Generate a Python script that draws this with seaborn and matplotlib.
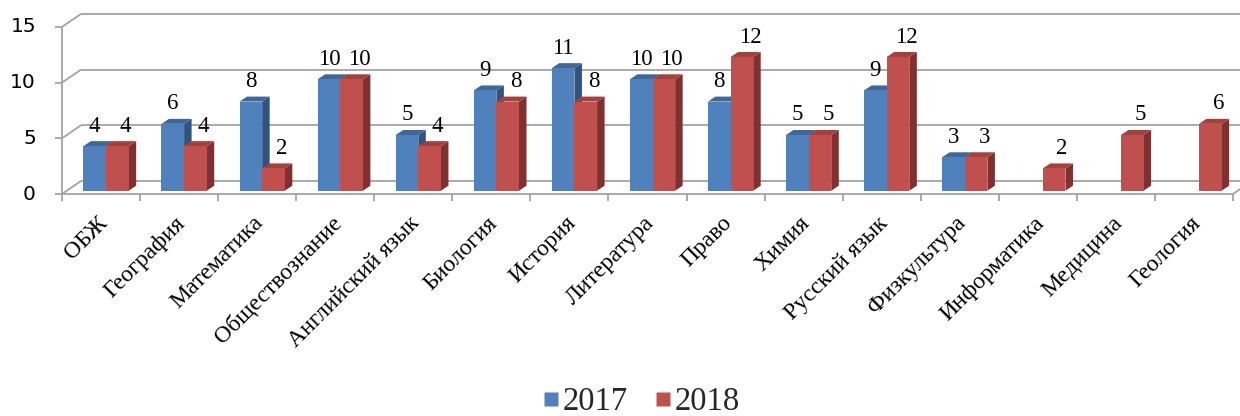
import numpy as np
import pandas as pd
import matplotlib
matplotlib.use("Agg")
import matplotlib.pyplot as plt
import seaborn as sns
from matplotlib.lines import Line2D
from matplotlib.patches import Polygon
from matplotlib.transforms import IdentityTransform

# ---- data -----------------------------------------------------------------
categories = ["ОБЖ", "География", "Математика", "Обществознание",
              "Английский язык", "Биология", "История", "Литература",
              "Право", "Химия", "Русский язык", "Физкультура",
              "Информатика", "Медицина", "Геология"]
years = ["2017", "2018"]
values_2017 = [4, 6, 8, 10, 5, 9, 11, 10, 8, 5, 9, 3, None, None, None]
values_2018 = [4, 4, 2, 10, 4, 8, 8, 10, 12, 5, 12, 3, 2, 5, 6]
y_ticks = [0, 5, 10, 15]

# ---- styling --------------------------------------------------------------
front_colors = {"2017": "#4F81BD", "2018": "#C0504D"}
top_colors = {"2017": "#3D6899", "2018": "#A5403D"}
side_colors = {"2017": "#2F5480", "2018": "#80302E"}
label_shift = {"2017": 0.0, "2018": 8.0}   # horizontal nudge of value labels, px
grid_color = "#A3A3A3"
SERIF = "Liberation Serif"

sns.set_theme(style="white")
plt.rcParams["font.family"] = ["DejaVu Sans"]

DPI = 100
W, H = 1240, 416
fig = plt.figure(figsize=(W / DPI, H / DPI), dpi=DPI)
fig.patch.set_facecolor("white")

# plane in which the front faces of the bars lie (pixel units, top-left origin)
left_px, right_px = 67, 1238
zero_px, unit_px = 190.7, 11.14
top_px = zero_px - 15 * unit_px
ax = fig.add_axes([left_px / W, 1 - zero_px / H,
                   (right_px - left_px) / W, (zero_px - top_px) / H])

df = pd.DataFrame({
    "Предмет": categories * 2,
    "Год": ["2017"] * len(categories) + ["2018"] * len(categories),
    "Число": [np.nan if v is None else v for v in values_2017] + values_2018,
}).dropna()

sns.barplot(data=df, x="Предмет", y="Число", hue="Год", order=categories,
            hue_order=years, palette=front_colors, width=0.58, gap=0,
            saturation=1, legend=False, edgecolor="none", linewidth=0, ax=ax)

ax.set_xlim(-0.5, len(categories) - 0.5)
ax.set_ylim(0, 15)
ax.set_axis_off()
ax.set_autoscale_on(False)

FRONT = (-5.0, -3.3)   # front edge of the floor relative to the bar plane
BACK = (14.0, 9.7)     # back wall relative to the bar plane
DEPTH = (7.5, 5.0)     # depth of a single bar
ident = IdentityTransform()


def disp(x, y, off=(0.0, 0.0)):
    p = ax.transData.transform((x, y))
    return (p[0] + off[0], p[1] + off[1])


def line(p0, p1, z=1, lw=1.3):
    ax.add_line(Line2D([p0[0], p1[0]], [p0[1], p1[1]], color=grid_color,
                       lw=lw, transform=ident, clip_on=False, zorder=z,
                       solid_capstyle="butt"))


xmin, xmax = -0.5, len(categories) - 0.5

# back wall gridlines and the diagonals joining them to the value axis
for t in y_ticks:
    b0 = disp(xmin, t, BACK)
    line(b0, (W + 10, b0[1]))
    f0 = disp(xmin, t, FRONT)
    line(f0, b0)
    line(f0, (f0[0] - 7, f0[1]))
    ax.text(f0[0] - 26, f0[1], str(t), transform=ident, ha="right",
            va="center", fontsize=14.5, color="black", clip_on=False)

# value axis, front floor edge and its category ticks
line(disp(xmin, 0, FRONT), disp(xmin, 15, FRONT))
line(disp(xmin, 0, FRONT), disp(xmax, 0, FRONT))
line(disp(xmax, 0, FRONT), disp(xmax, 0, BACK))
for k in range(len(categories) + 1):
    p = disp(xmin + k, 0, FRONT)
    line(p, (p[0], p[1] - 7))

# category labels
for i, name in enumerate(categories):
    p = disp(i, 0, FRONT)
    ax.text(p[0] + 3, p[1] - 26, name, transform=ident, rotation=45,
            rotation_mode="anchor", ha="right", va="center",
            fontsize=17, family=SERIF, color="black", clip_on=False)

# turn the flat bars into boxes
bars = [b for b in ax.patches if np.isfinite(b.get_height()) and b.get_height() > 0]
bars.sort(key=lambda b: b.get_x())
front_rgb = {k: matplotlib.colors.to_rgb(v) for k, v in front_colors.items()}
for n, bar in enumerate(bars):
    fc = matplotlib.colors.to_rgb(bar.get_facecolor())
    year = min(front_rgb, key=lambda k: sum((a - b) ** 2 for a, b in zip(front_rgb[k], fc)))
    x0, w, h = bar.get_x(), bar.get_width(), bar.get_height()
    x1 = x0 + w
    dx, dy = DEPTH
    br = disp(x1, 0)
    tl, tr = disp(x0, h), disp(x1, h)
    side = [br, tr, (tr[0] + dx, tr[1] + dy), (br[0] + dx, br[1] + dy)]
    top = [tl, tr, (tr[0] + dx, tr[1] + dy), (tl[0] + dx, tl[1] + dy)]
    ax.add_patch(Polygon(side, closed=True, facecolor=side_colors[year],
                         edgecolor="none", transform=ident, clip_on=False,
                         zorder=3 + 2 * n))
    ax.add_patch(Polygon(top, closed=True, facecolor=top_colors[year],
                         edgecolor="none", transform=ident, clip_on=False,
                         zorder=3 + 2 * n))
    bar.set_zorder(4 + 2 * n)
    bar.set_clip_on(False)
    ax.annotate(f"{h:g}", xy=(x0 + w / 2, h),
                xytext=(label_shift[year] * 72 / DPI, 14.5 * 72 / DPI),
                textcoords="offset points", ha="center", va="baseline",
                fontsize=16.5, family=SERIF, color="black",
                annotation_clip=False, zorder=100)

ax.set_xlim(xmin, xmax)
ax.set_ylim(0, 15)

handles = [Line2D([], [], marker="s", linestyle="none", markersize=10.5,
                  markerfacecolor=front_colors[y], markeredgecolor="none")
           for y in years]
fig.legend(handles, years, loc="center", bbox_to_anchor=(641 / W, 1 - 402 / H),
           ncol=2, frameon=False, prop={"family": SERIF, "size": 23.5},
           handletextpad=0.08, columnspacing=0.8, handlelength=0.55,
           borderaxespad=0, borderpad=0)

fig.savefig("out.png", dpi=DPI, facecolor="white")
